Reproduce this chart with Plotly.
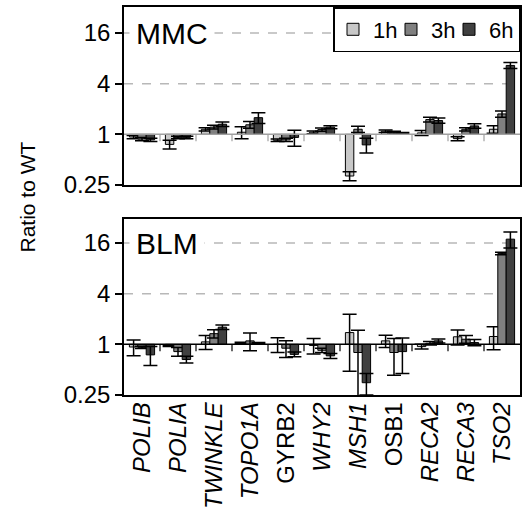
import numpy as np
import plotly.graph_objects as go

genes = ["POLIB", "POLIA", "TWINKLE", "TOPO1A", "GYRB2", "WHY2",
         "MSH1", "OSB1", "RECA2", "RECA3", "TSO2"]
italic = [True, True, True, True, False, True, True, False, True, True, True]
times = ["1h", "3h", "6h"]
colors = ["#c8c8c8", "#808080", "#404040"]
tick_vals = [0.25, 1, 4, 16]
tick_text = ["0.25", "1", "4", "16"]

# MMC treatment: ratio to WT and error (linear units)
mmc_1h = [0.93, 0.76, 1.15, 1.06, 0.85, 1.06, 0.32, 1.09, 1.04, 0.89, 1.15]
mmc_1h_err = [0.04, 0.09, 0.05, 0.17, 0.03, 0.04, 0.04, 0.04, 0.07, 0.05, 0.12]
mmc_3h = [0.88, 0.92, 1.22, 1.30, 0.86, 1.14, 1.15, 1.05, 1.50, 1.15, 1.75]
mmc_3h_err = [0.04, 0.03, 0.06, 0.12, 0.04, 0.05, 0.10, 0.04, 0.10, 0.05, 0.15]
mmc_6h = [0.86, 0.92, 1.32, 1.58, 0.92, 1.22, 0.75, 1.03, 1.46, 1.26, 6.6]
mmc_6h_err = [0.04, 0.03, 0.08, 0.23, 0.20, 0.05, 0.15, 0.02, 0.10, 0.08, 0.55]

# BLM treatment
blm_1h = [0.93, 0.96, 1.07, 1.04, 1.00, 0.97, 1.38, 1.10, 0.94, 1.23, 1.24]
blm_1h_err = [0.20, 0.02, 0.20, 0.02, 0.20, 0.20, 0.90, 0.18, 0.06, 0.25, 0.38]
blm_3h = [0.92, 0.82, 1.34, 1.10, 0.90, 0.85, 0.80, 0.80, 1.03, 1.15, 12.0]
blm_3h_err = [0.03, 0.10, 0.15, 0.26, 0.20, 0.05, 0.67, 0.37, 0.05, 0.12, 0.40]
blm_6h = [0.75, 0.66, 1.60, 1.03, 0.76, 0.73, 0.35, 0.82, 1.10, 1.05, 17.8]
blm_6h_err = [0.19, 0.06, 0.10, 0.02, 0.05, 0.05, 0.10, 0.37, 0.06, 0.09, 3.8]

panels = [
    ("MMC", [mmc_1h, mmc_3h, mmc_6h], [mmc_1h_err, mmc_3h_err, mmc_6h_err]),
    ("BLM", [blm_1h, blm_3h, blm_6h], [blm_1h_err, blm_3h_err, blm_6h_err]),
]

FONT = "Liberation Sans, Arial, sans-serif"
fig = go.Figure()

for p, (name, vals, errs) in enumerate(panels):
    xa = "x" if p == 0 else "x2"
    ya = "y" if p == 0 else "y2"
    for t in range(3):
        v = np.array(vals[t], dtype=float)
        e = np.array(errs[t], dtype=float)
        lv = np.log2(v)
        up = np.log2(v + e) - lv
        lo = lv - np.log2(np.clip(v - e, 0.05, None))
        fig.add_trace(go.Bar(
            x=genes, y=lv, name=times[t], xaxis=xa, yaxis=ya,
            marker=dict(color=colors[t], line=dict(color="black", width=1)),
            error_y=dict(type="data", symmetric=False, array=up, arrayminus=lo,
                         color="black", thickness=1.5, width=7),
            showlegend=(p == 0), legendgroup=times[t],
            legendwidth=(13 if t < 2 else None),
        ))

ticktext_x = [f"<i>{g}</i>" if it else g for g, it in zip(genes, italic)]
yt = [float(np.log2(v)) for v in tick_vals]

common_y = dict(tickvals=yt, ticktext=tick_text, ticks="outside", ticklen=7,
                tickwidth=1.5, tickcolor="black", showline=True, mirror=True,
                linecolor="black", linewidth=1.5, zeroline=False, showgrid=False,
                tickfont=dict(size=24, color="black", family=FONT))
common_x = dict(type="category", categoryorder="array", categoryarray=genes,
                showline=True, mirror=True, linecolor="black", linewidth=1.5,
                ticks="", showgrid=False, zeroline=False,
                range=[-0.5, len(genes) - 0.5])

fig.update_layout(
    width=527, height=518,
    margin=dict(l=124, r=5, t=7, b=123),
    paper_bgcolor="white", plot_bgcolor="white",
    font=dict(family=FONT, color="black"),
    barmode="group", bargap=0.3, bargroupgap=0,
    xaxis=dict(common_x, anchor="y", showticklabels=False),
    xaxis2=dict(common_x, anchor="y2", tickvals=genes, ticktext=ticktext_x,
                tickangle=-90, ticklabelstandoff=-4,
                tickfont=dict(size=24, color="black", family=FONT)),
    yaxis=dict(common_y, domain=[0.5412, 1.0], range=[-2, 5.03]),
    yaxis2=dict(common_y, domain=[0.0, 0.4536], range=[-2, 4.95]),
    legend=dict(orientation="h", x=1, xanchor="right", y=1, yanchor="top",
                bordercolor="black", borderwidth=1.5, bgcolor="white",
                font=dict(size=22, family=FONT, color="black"),
                itemwidth=30, tracegroupgap=0),
)

shapes = []
annotations = []
for p, (name, vals, errs) in enumerate(panels):
    xr = "x" if p == 0 else "x2"
    yr = "y" if p == 0 else "y2"
    base_col = "#a0a0a0" if p == 0 else "black"
    for gv in (4, 16):
        shapes.append(dict(type="line", xref=xr + " domain", yref=yr,
                           x0=0, x1=1, y0=np.log2(gv), y1=np.log2(gv),
                           line=dict(color="#b8b8b8", width=1.5, dash="dash"),
                           layer="below"))
    shapes.append(dict(type="line", xref=xr + " domain", yref=yr,
                       x0=0, x1=1, y0=0, y1=0,
                       line=dict(color=base_col, width=1.5), layer="above"))
    for i in range(len(genes) - 1):
        shapes.append(dict(type="line", xref=xr, yref=yr, ysizemode="pixel",
                           yanchor=0, x0=i + 0.5, x1=i + 0.5, y0=0, y1=-7,
                           line=dict(color=base_col, width=1.2), layer="above"))
    annotations.append(dict(text=name, xref=xr + " domain", yref=yr,
                            x=0.013, y=np.log2(16), xanchor="left", yanchor="middle",
                            showarrow=False, bgcolor="white", borderpad=6,
                            font=dict(size=30, family=FONT, color="black")))

annotations.append(dict(text="Ratio to WT", xref="paper", yref="paper",
                        x=-0.244, y=0.51, xanchor="center", yanchor="middle",
                        textangle=-90, showarrow=False,
                        font=dict(size=21, family=FONT, color="black")))

fig.update_layout(shapes=shapes, annotations=annotations)
fig.write_html("out.html", config={"displayModeBar": False},
               post_script="document.body.style.margin='0px';"
                           "document.body.style.overflow='hidden';")
